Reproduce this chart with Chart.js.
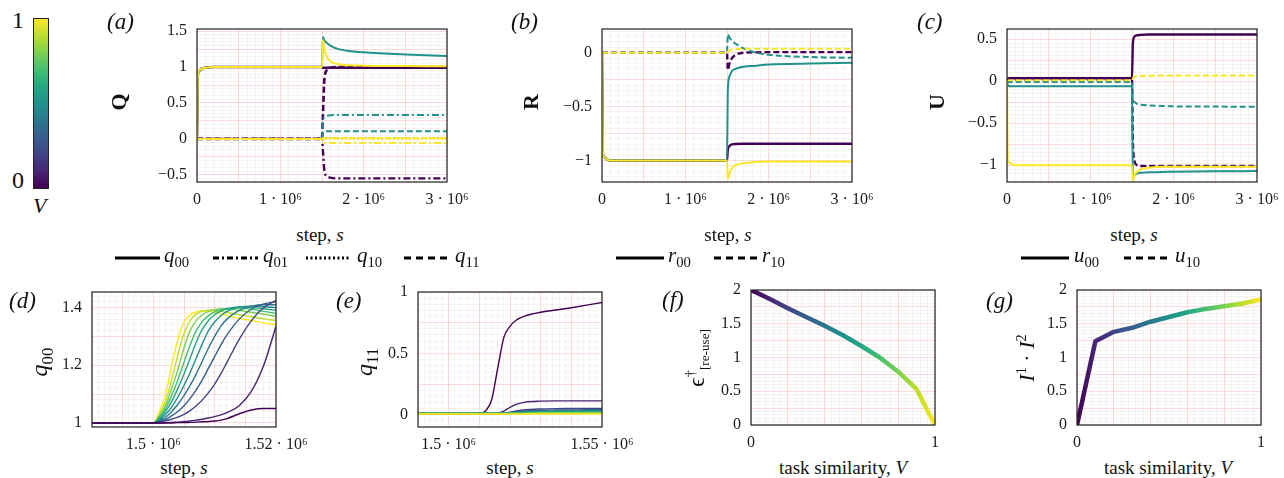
<!DOCTYPE html>
<html>
<head>
<meta charset="utf-8">
<script src="https://cdn.jsdelivr.net/npm/chart.js@4.4.1/dist/chart.umd.min.js"></script>
<style>
  body { margin: 0; background: #fff; }
  #fig { position: relative; width: 1284px; height: 478px; overflow: hidden;
         font-family: "Liberation Serif", "DejaVu Serif", serif; color: #111; }
  canvas { position: absolute; }
  .t { position: absolute; white-space: nowrap; line-height: 1; }
  .pl { font-style: italic; font-size: 23px; }
  .xt { font-size: 19px; transform: translateX(-50%); }
  .yt { transform: translate(-50%, -50%) rotate(-90deg); }
  .leg { font-size: 21px; transform: translateY(-50%); }
  .leg sub, .yt sub { font-style: normal; font-size: 0.7em; }
  svg { position: absolute; overflow: visible; }
  #cbar { position: absolute; left: 33px; top: 18px; width: 14px; height: 169px; border: 1px solid #222; }
</style>
</head>
<body>
<div id="fig">
  <div id="cbar"></div>
  <div class="t" style="left:12px;top:8px;font-size:24px">1</div>
  <div class="t" style="left:12px;top:168px;font-size:24px">0</div>
  <div class="t" style="left:33px;top:195px;font-size:22px;font-style:italic">V</div>

  <div class="t pl" style="left:107px;top:10px">(a)</div>
  <div class="t pl" style="left:511px;top:10px">(b)</div>
  <div class="t pl" style="left:917px;top:10px">(c)</div>
  <div class="t pl" style="left:9px;top:289px">(d)</div>
  <div class="t pl" style="left:336px;top:289px">(e)</div>
  <div class="t pl" style="left:662px;top:288px">(f)</div>
  <div class="t pl" style="left:986px;top:289px">(g)</div>

  <div class="t yt" style="left:119px;top:102px;font-size:22px;font-weight:bold">Q</div>
  <div class="t yt" style="left:531px;top:102px;font-size:22px;font-weight:bold">R</div>
  <div class="t yt" style="left:937px;top:102px;font-size:22px;font-weight:bold">U</div>
  <div class="t yt" style="left:42px;top:362px;font-size:24px"><i>q</i><sub>00</sub></div>
  <div class="t yt" style="left:367px;top:362px;font-size:24px"><i>q</i><sub>11</sub></div>
  <div class="t yt" style="left:697px;top:358px;font-size:24px">ϵ<sup style="font-size:0.6em">†</sup><sub style="font-size:0.55em">[re-use]</sub></div>
  <div class="t yt" style="left:1026px;top:358px;font-size:22px"><i>I</i><sup style="font-size:0.65em">1</sup> · <i>I</i><sup style="font-size:0.65em">2</sup></div>

  <div class="t xt" style="left:320px;top:225px">step, <i>s</i></div>
  <div class="t xt" style="left:728px;top:225px">step, <i>s</i></div>
  <div class="t xt" style="left:1134px;top:225px">step, <i>s</i></div>
  <div class="t xt" style="left:184px;top:458px">step, <i>s</i></div>
  <div class="t xt" style="left:510px;top:458px">step, <i>s</i></div>
  <div class="t xt" style="left:843px;top:458px">task similarity, <i>V</i></div>
  <div class="t xt" style="left:1168px;top:458px">task similarity, <i>V</i></div>

  <svg style="left:0;top:0" width="1284" height="478">
    <g stroke="#000" stroke-width="3">
      <line x1="115" y1="258" x2="160" y2="258"/>
      <line x1="213" y1="258" x2="258" y2="258" stroke-dasharray="6 3 2 3"/>
      <line x1="306" y1="258" x2="350" y2="258" stroke-dasharray="2 2.5"/>
      <line x1="404" y1="258" x2="448" y2="258" stroke-dasharray="7 5"/>
      <line x1="616" y1="258" x2="664" y2="258"/>
      <line x1="714" y1="258" x2="758" y2="258" stroke-dasharray="7 5"/>
      <line x1="1021" y1="258" x2="1069" y2="258"/>
      <line x1="1124" y1="258" x2="1170" y2="258" stroke-dasharray="7 5"/>
    </g>
  </svg>
  <div class="t leg" style="left:164px;top:257px"><i>q</i><sub>00</sub></div>
  <div class="t leg" style="left:263px;top:257px"><i>q</i><sub>01</sub></div>
  <div class="t leg" style="left:357px;top:257px"><i>q</i><sub>10</sub></div>
  <div class="t leg" style="left:455px;top:257px"><i>q</i><sub>11</sub></div>
  <div class="t leg" style="left:668px;top:257px"><i>r</i><sub>00</sub></div>
  <div class="t leg" style="left:762px;top:257px"><i>r</i><sub>10</sub></div>
  <div class="t leg" style="left:1074px;top:257px"><i>u</i><sub>00</sub></div>
  <div class="t leg" style="left:1175px;top:257px"><i>u</i><sub>10</sub></div>
</div>

<script>
// viridis colours for V = 0, 0.1, ..., 1
const VIRIDIS = ['#440154', '#482475', '#414487', '#355f8d', '#2a788e', '#21918c',
                 '#22a884', '#44bf70', '#7ad151', '#bddf26', '#fde725'];
const V_VALUES = [0, 0.1, 0.2, 0.3, 0.4, 0.5, 0.6, 0.7, 0.8, 0.9, 1];

// ---- top row: order parameters over training, for V = 0, 0.5, 1
const TOP_STEPS = [0, 1e4, 3e4, 6e4, 1e5, 2e5, 4e5, 8e5, 1.2e6, 1.5e6, 1.51e6, 1.53e6, 1.56e6, 1.6e6, 1.7e6, 1.85e6, 2e6, 2.5e6, 3e6];
const TOP_XTICKS = [0, 1e6, 2e6, 3e6];
const TOP_XLABELS = ['0', '1 · 10⁶', '2 · 10⁶', '3 · 10⁶'];

const A_Q00_V0  = [0, 0.88, 0.95, 0.98, 0.99, 1, 1, 1, 1, 1, 0.99, 0.99, 0.99, 0.99, 0.99, 0.99, 0.99, 0.99, 0.99];
const A_Q01_V0  = [0, 0, 0, 0, 0, 0, 0, 0, 0, 0, -0.15, -0.45, -0.52, -0.54, -0.55, -0.55, -0.55, -0.55, -0.55];
const A_Q10_V0  = [0, 0, 0, 0, 0, 0, 0, 0, 0, 0, 0, 0, 0, 0, 0, 0, 0, 0, 0];
const A_Q11_V0  = [0, 0, 0, 0, 0, 0, 0, 0, 0, 0, 0.3, 0.85, 0.96, 0.99, 1, 1, 1, 1, 1];
const A_Q00_V5  = [0, 0.88, 0.95, 0.98, 0.99, 1, 1, 1, 1, 1, 1.42, 1.37, 1.335, 1.3, 1.25, 1.22, 1.205, 1.175, 1.153];
const A_Q01_V5  = [0, 0, 0, 0, 0, 0, 0, 0, 0, 0, 0.25, 0.3, 0.32, 0.33, 0.333, 0.333, 0.333, 0.333, 0.333];
const A_Q10_V5  = [0, 0, 0, 0, 0, 0, 0, 0, 0, 0, 0, 0, 0, 0, 0, 0, 0, 0, 0];
const A_Q11_V5  = [0, 0, 0, 0, 0, 0, 0, 0, 0, 0, 0.09, 0.105, 0.107, 0.107, 0.107, 0.107, 0.107, 0.107, 0.107];
const A_Q00_V10 = [0, 0.88, 0.95, 0.98, 0.99, 1, 1, 1, 1, 1, 1.38, 1.25, 1.14, 1.08, 1.04, 1.025, 1.02, 1.015, 1.01];
const A_Q01_V10 = [0, 0, 0, 0, 0, 0, 0, 0, 0, 0, -0.05, -0.056, -0.056, -0.056, -0.056, -0.056, -0.056, -0.056, -0.056];
const A_Q10_V10 = [0, 0, 0, 0, 0, 0, 0, 0, 0, 0, 0, 0, 0, 0, 0, 0, 0, 0, 0];
const A_Q11_V10 = [0, 0, 0, 0, 0, 0, 0, 0, 0, 0, 0.014, 0.014, 0.014, 0.014, 0.014, 0.014, 0.014, 0.014, 0.014];
const A_YTICKS = [-0.5, 0, 0.5, 1, 1.5];
const A_YLABELS = ['−0.5', '0', '0.5', '1', '1.5'];

const B_R00_V0  = [0, -0.93, -0.97, -0.99, -1, -1, -1, -1, -1, -1, -0.9, -0.865, -0.85, -0.847, -0.845, -0.845, -0.845, -0.845, -0.845];
const B_R10_V0  = [0, 0, 0, 0, 0, 0, 0, 0, 0, 0, -0.16, -0.1, -0.05, -0.02, 0, 0.003, 0.005, 0.005, 0.005];
const B_R00_V5  = [0, -0.93, -0.97, -0.99, -1, -1, -1, -1, -1, -1, -0.35, -0.22, -0.17, -0.15, -0.13, -0.12, -0.11, -0.1, -0.093];
const B_R10_V5  = [0, 0, 0, 0, 0, 0, 0, 0, 0, 0, 0.17, 0.14, 0.11, 0.085, 0.04, 0, -0.02, -0.04, -0.047];
const B_R00_V10 = [0, -0.93, -0.97, -0.99, -1, -1, -1, -1, -1, -1, -1.17, -1.12, -1.07, -1.045, -1.025, -1.015, -1.01, -1.01, -1.01];
const B_R10_V10 = [0, 0, 0, 0, 0, 0, 0, 0, 0, 0, 0.01, 0.02, 0.03, 0.034, 0.036, 0.037, 0.037, 0.037, 0.037];
const B_YTICKS = [-1, -0.5, 0];
const B_YLABELS = ['−1', '−0.5', '0'];

const C_U00_V0  = [0, 0.03, 0.035, 0.035, 0.035, 0.035, 0.035, 0.035, 0.035, 0.035, 0.45, 0.53, 0.545, 0.55, 0.555, 0.555, 0.555, 0.555, 0.555];
const C_U10_V0  = [0, 0.015, 0.02, 0.02, 0.02, 0.02, 0.02, 0.02, 0.02, 0.02, -0.7, -0.95, -1, -1.01, -1.01, -1.01, -1.01, -1.01, -1.01];
const C_U00_V5  = [0, -0.05, -0.06, -0.06, -0.06, -0.06, -0.06, -0.06, -0.06, -0.06, -1.16, -1.12, -1.1, -1.09, -1.085, -1.08, -1.078, -1.073, -1.07];
const C_U10_V5  = [0, -0.008, -0.01, -0.01, -0.01, -0.01, -0.01, -0.01, -0.01, -0.01, -0.22, -0.25, -0.27, -0.28, -0.29, -0.295, -0.3, -0.303, -0.305];
const C_U00_V10 = [0, -0.93, -0.97, -0.99, -1, -1, -1, -1, -1, -1, -1.19, -1.12, -1.08, -1.05, -1.03, -1.02, -1.02, -1.02, -1.02];
const C_U10_V10 = [0, 0.008, 0.01, 0.01, 0.01, 0.01, 0.01, 0.01, 0.01, 0.01, 0.03, 0.05, 0.058, 0.062, 0.065, 0.066, 0.067, 0.067, 0.067];
const C_YTICKS = [-1, -0.5, 0, 0.5];
const C_YLABELS = ['−1', '−0.5', '0', '0.5'];

// ---- (d) q00 right after the task switch, one curve per V
const D_STEPS = [1490000, 1500000, 1501000, 1502000, 1503000, 1504000, 1505000, 1506000, 1507000,
                 1508000, 1509000, 1510000, 1511000, 1512000, 1514000, 1516000, 1518000, 1520000];
const D_Q00_V0  = [1, 1, 1, 1, 1, 1.001, 1.001, 1.002, 1.003, 1.004, 1.005, 1.007, 1.01, 1.015, 1.032, 1.045, 1.05, 1.05];
const D_Q00_V1  = [1, 1, 1, 1.001, 1.002, 1.003, 1.005, 1.007, 1.01, 1.013, 1.017, 1.022, 1.028, 1.036, 1.06, 1.11, 1.2, 1.335];
const D_Q00_V2  = [1, 1, 1.003, 1.007, 1.013, 1.02, 1.03, 1.043, 1.06, 1.08, 1.105, 1.135, 1.17, 1.21, 1.29, 1.355, 1.4, 1.425];
const D_Q00_V3  = [1, 1, 1.005, 1.012, 1.025, 1.04, 1.06, 1.085, 1.115, 1.15, 1.19, 1.23, 1.27, 1.305, 1.36, 1.395, 1.413, 1.42];
const D_Q00_V4  = [1, 1, 1.008, 1.02, 1.04, 1.065, 1.095, 1.13, 1.17, 1.215, 1.26, 1.3, 1.335, 1.36, 1.39, 1.405, 1.41, 1.41];
const D_Q00_V5  = [1, 1, 1.01, 1.03, 1.055, 1.09, 1.13, 1.175, 1.225, 1.275, 1.32, 1.35, 1.372, 1.387, 1.402, 1.405, 1.403, 1.4];
const D_Q00_V6  = [1, 1, 1.015, 1.04, 1.075, 1.12, 1.17, 1.225, 1.28, 1.325, 1.355, 1.375, 1.388, 1.396, 1.402, 1.4, 1.396, 1.39];
const D_Q00_V7  = [1, 1, 1.02, 1.05, 1.095, 1.15, 1.21, 1.27, 1.32, 1.352, 1.372, 1.385, 1.393, 1.397, 1.398, 1.394, 1.387, 1.38];
const D_Q00_V8  = [1, 1, 1.025, 1.06, 1.12, 1.185, 1.26, 1.32, 1.355, 1.375, 1.387, 1.393, 1.395, 1.395, 1.39, 1.384, 1.377, 1.37];
const D_Q00_V9  = [1, 1, 1.03, 1.075, 1.15, 1.235, 1.31, 1.355, 1.378, 1.388, 1.391, 1.39, 1.387, 1.383, 1.375, 1.368, 1.361, 1.355];
const D_Q00_V10 = [1, 1, 1.04, 1.1, 1.2, 1.29, 1.35, 1.375, 1.385, 1.388, 1.387, 1.383, 1.378, 1.373, 1.363, 1.355, 1.347, 1.34];
const D_XTICKS = [1500000, 1520000];
const D_XLABELS = ['1.5 · 10⁶', '1.52 · 10⁶'];
const D_YTICKS = [1, 1.2, 1.4];
const D_YLABELS = ['1', '1.2', '1.4'];

// ---- (e) q11 right after the task switch
const E_STEPS = [1490000, 1500000, 1505000, 1510000, 1512000, 1514000, 1516000, 1518000,
                 1520000, 1522000, 1525000, 1530000, 1535000, 1540000, 1545000, 1550000];
const E_Q11_V0  = [0.01, 0.01, 0.01, 0.012, 0.03, 0.12, 0.38, 0.63, 0.72, 0.77, 0.805, 0.835, 0.853, 0.872, 0.893, 0.915];
const E_Q11_V1  = [0.01, 0.01, 0.01, 0.01, 0.01, 0.01, 0.015, 0.03, 0.06, 0.085, 0.103, 0.111, 0.113, 0.113, 0.113, 0.113];
const E_Q11_V2  = [0.01, 0.01, 0.01, 0.01, 0.01, 0.01, 0.01, 0.012, 0.02, 0.03, 0.04, 0.047, 0.05, 0.051, 0.052, 0.052];
const E_Q11_V3  = [0.01, 0.01, 0.01, 0.01, 0.01, 0.01, 0.01, 0.011, 0.016, 0.023, 0.03, 0.036, 0.038, 0.039, 0.04, 0.04];
const E_Q11_V4  = [0.01, 0.01, 0.01, 0.01, 0.01, 0.01, 0.01, 0.011, 0.014, 0.018, 0.024, 0.03, 0.032, 0.033, 0.034, 0.034];
const E_Q11_V5  = [0.01, 0.01, 0.01, 0.01, 0.01, 0.01, 0.01, 0.01, 0.012, 0.015, 0.02, 0.025, 0.027, 0.028, 0.028, 0.028];
const E_Q11_V6  = [0.01, 0.01, 0.01, 0.01, 0.01, 0.01, 0.01, 0.01, 0.011, 0.013, 0.016, 0.02, 0.022, 0.023, 0.023, 0.023];
const E_Q11_V7  = [0.01, 0.01, 0.01, 0.01, 0.01, 0.01, 0.01, 0.01, 0.01, 0.011, 0.013, 0.016, 0.018, 0.019, 0.019, 0.019];
const E_Q11_V8  = [0.01, 0.01, 0.01, 0.01, 0.01, 0.01, 0.01, 0.01, 0.01, 0.01, 0.012, 0.014, 0.015, 0.015, 0.015, 0.015];
const E_Q11_V9  = [0.008, 0.008, 0.008, 0.008, 0.008, 0.008, 0.008, 0.008, 0.008, 0.008, 0.009, 0.01, 0.011, 0.011, 0.011, 0.011];
const E_Q11_V10 = [0.005, 0.005, 0.005, 0.005, 0.005, 0.005, 0.005, 0.005, 0.005, 0.005, 0.005, 0.005, 0.005, 0.005, 0.005, 0.005];
const E_XTICKS = [1500000, 1550000];
const E_XLABELS = ['1.5 · 10⁶', '1.55 · 10⁶'];
const E_YTICKS = [0, 0.5, 1];
const E_YLABELS = ['0', '0.5', '1'];

// ---- (f), (g) against task similarity
const F_EPS = [2.0, 1.87, 1.73, 1.6, 1.47, 1.33, 1.17, 1.0, 0.79, 0.53, 0.0];
const G_OVERLAP = [0, 1.24, 1.38, 1.44, 1.53, 1.6, 1.67, 1.72, 1.76, 1.8, 1.86];
const V_XTICKS = [0, 0.5, 1];
const V_XLABELS = ['0', '0.5', '1'];
const FG_YTICKS = [0, 0.5, 1, 1.5, 2];
const FG_YLABELS = ['0', '0.5', '1', '1.5', '2'];

const FONT = '"Liberation Serif", "DejaVu Serif", serif';
const MAJOR = 'rgba(240, 90, 90, 0.22)';
const MINOR = 'rgba(170, 130, 130, 0.09)';
const fig = document.getElementById('fig');

document.getElementById('cbar').style.background =
  'linear-gradient(to top, ' + VIRIDIS.join(', ') + ')';

function pts(xs, ys) {
  return xs.map((x, i) => ({ x: x, y: ys[i] }));
}

function line(xs, ys, color, width, dash, order) {
  return {
    data: pts(xs, ys), borderColor: color, borderWidth: width, borderDash: dash || [],
    pointRadius: 0, fill: false, cubicInterpolationMode: 'monotone', order: order || 0
  };
}

function gridValues(min, max, step) {
  const out = [];
  for (let k = Math.ceil(min / step - 1e-9); k * step <= max + 1e-9; k++) {
    out.push(+(k * step).toFixed(9));
  }
  return out;
}

function onStep(v, step) {
  const r = v / step;
  return Math.abs(r - Math.round(r)) < 1e-6;
}

function axis(min, max, minor, major, ticks, labels, isX) {
  return {
    type: 'linear', min: min, max: max,
    afterBuildTicks: s => { s.ticks = gridValues(min, max, minor).map(v => ({ value: v })); },
    afterFit: s => {
      if (isX) s.height = 30; else s.width = 70;
      s.paddingLeft = 0; s.paddingRight = 0; s.paddingTop = 0; s.paddingBottom = 0;
    },
    grid: { color: c => onStep(c.tick.value, major) ? MAJOR : MINOR, drawTicks: false, lineWidth: 1 },
    border: { display: false },
    ticks: {
      autoSkip: false, maxRotation: 0, minRotation: 0, padding: isX ? 8 : 10,
      color: '#1a1a1a', font: { family: FONT, size: 16 },
      callback: v => {
        const i = ticks.findIndex(t => Math.abs(t - v) < (max - min) * 1e-6);
        return i < 0 ? '' : labels[i];
      }
    }
  };
}

const frame = {
  id: 'frame',
  afterDraw(chart) {
    const a = chart.chartArea, c = chart.ctx;
    c.save();
    c.strokeStyle = '#222';
    c.lineWidth = 1.2;
    c.strokeRect(a.left, a.top, a.right - a.left, a.bottom - a.top);
    c.restore();
  }
};

function panel(rect, datasets, xAxis, yAxis) {
  const [L, T, R, B] = rect;
  const W = R - L + 105, H = B - T + 45;
  const cv = document.createElement('canvas');
  cv.width = W; cv.height = H;
  cv.style.left = (L - 70) + 'px';
  cv.style.top = (T - 15) + 'px';
  cv.style.width = W + 'px';
  cv.style.height = H + 'px';
  fig.insertBefore(cv, fig.firstChild);
  new Chart(cv, {
    type: 'line',
    data: { datasets: datasets },
    options: {
      responsive: false, animation: false,
      layout: { padding: { left: 0, top: 15, right: 35, bottom: 0 } },
      plugins: { legend: { display: false }, tooltip: { enabled: false } },
      scales: { x: xAxis, y: yAxis }
    },
    plugins: [frame]
  });
}

const SOLID = [], DASHDOT = [7, 3, 2, 3], DOTTED = [2, 2], DASHED = [6, 3];
const TOP_COLORS = [VIRIDIS[0], VIRIDIS[5], VIRIDIS[10]];
const TOP_X = () => axis(0, 3e6, 1e5, 5e5, TOP_XTICKS, TOP_XLABELS, true);

// (a)
panel([197, 29, 447, 182], [
  line(TOP_STEPS, A_Q00_V10, TOP_COLORS[2], 2, SOLID, 0),
  line(TOP_STEPS, A_Q01_V10, TOP_COLORS[2], 2, DASHDOT, 0),
  line(TOP_STEPS, A_Q10_V10, TOP_COLORS[2], 2, DOTTED, 0),
  line(TOP_STEPS, A_Q11_V10, TOP_COLORS[2], 2, DASHED, 0),
  line(TOP_STEPS, A_Q00_V5, TOP_COLORS[1], 2, SOLID, 1),
  line(TOP_STEPS, A_Q01_V5, TOP_COLORS[1], 2, DASHDOT, 1),
  line(TOP_STEPS, A_Q10_V5, TOP_COLORS[1], 2, DOTTED, 1),
  line(TOP_STEPS, A_Q11_V5, TOP_COLORS[1], 2, DASHED, 1),
  line(TOP_STEPS, A_Q00_V0, TOP_COLORS[0], 2.4, SOLID, 2),
  line(TOP_STEPS, A_Q01_V0, TOP_COLORS[0], 2.4, DASHDOT, 2),
  line(TOP_STEPS, A_Q10_V0, TOP_COLORS[0], 2.4, DOTTED, 2),
  line(TOP_STEPS, A_Q11_V0, TOP_COLORS[0], 2.6, DASHED, 2)
], TOP_X(), axis(-0.6, 1.53, 0.05, 0.25, A_YTICKS, A_YLABELS, false));

// (b)
panel([602, 29, 852, 182], [
  line(TOP_STEPS, B_R00_V10, TOP_COLORS[2], 2, SOLID, 0),
  line(TOP_STEPS, B_R10_V10, TOP_COLORS[2], 2, DASHED, 0),
  line(TOP_STEPS, B_R00_V5, TOP_COLORS[1], 2, SOLID, 1),
  line(TOP_STEPS, B_R10_V5, TOP_COLORS[1], 2, DASHED, 1),
  line(TOP_STEPS, B_R00_V0, TOP_COLORS[0], 2.4, SOLID, 2),
  line(TOP_STEPS, B_R10_V0, TOP_COLORS[0], 2.4, DASHED, 2)
], TOP_X(), axis(-1.2, 0.22, 0.05, 0.25, B_YTICKS, B_YLABELS, false));

// (c)
panel([1007, 29, 1257, 182], [
  line(TOP_STEPS, C_U00_V10, TOP_COLORS[2], 2, SOLID, 0),
  line(TOP_STEPS, C_U10_V10, TOP_COLORS[2], 2, DASHED, 0),
  line(TOP_STEPS, C_U00_V5, TOP_COLORS[1], 2, SOLID, 1),
  line(TOP_STEPS, C_U10_V5, TOP_COLORS[1], 2, DASHED, 1),
  line(TOP_STEPS, C_U00_V0, TOP_COLORS[0], 2.4, SOLID, 2),
  line(TOP_STEPS, C_U10_V0, TOP_COLORS[0], 2.4, DASHED, 2)
], TOP_X(), axis(-1.2, 0.62, 0.05, 0.25, C_YTICKS, C_YLABELS, false));

// (d)
const D_SERIES = [D_Q00_V0, D_Q00_V1, D_Q00_V2, D_Q00_V3, D_Q00_V4, D_Q00_V5,
                  D_Q00_V6, D_Q00_V7, D_Q00_V8, D_Q00_V9, D_Q00_V10];
panel([92, 292, 276, 427],
  D_SERIES.map((ys, i) => line(D_STEPS, ys, VIRIDIS[i], 1.4, SOLID, i)),
  axis(1490000, 1520000, 1000, 5000, D_XTICKS, D_XLABELS, true),
  axis(0.986, 1.454, 0.02, 0.1, D_YTICKS, D_YLABELS, false));

// (e)
const E_SERIES = [E_Q11_V0, E_Q11_V1, E_Q11_V2, E_Q11_V3, E_Q11_V4, E_Q11_V5,
                  E_Q11_V6, E_Q11_V7, E_Q11_V8, E_Q11_V9, E_Q11_V10];
panel([418, 292, 602, 427],
  E_SERIES.map((ys, i) => line(E_STEPS, ys, VIRIDIS[i], 1.4, SOLID, 10 - i)),
  axis(1490000, 1550000, 2000, 10000, E_XTICKS, E_XLABELS, true),
  axis(-0.1, 1.0, 0.05, 0.25, E_YTICKS, E_YLABELS, false));

// (f), (g): thick line coloured along V
function viridisStroke(ctx) {
  const chart = ctx.chart, a = chart.chartArea;
  if (!a) return VIRIDIS[0];
  const g = chart.ctx.createLinearGradient(a.left, 0, a.right, 0);
  VIRIDIS.forEach((c, i) => g.addColorStop(i / (VIRIDIS.length - 1), c));
  return g;
}
function thick(ys) {
  return { data: pts(V_VALUES, ys), borderColor: viridisStroke, borderWidth: 4.5,
           pointRadius: 0, fill: false, tension: 0, borderCapStyle: 'butt', borderJoinStyle: 'round' };
}
panel([751, 290, 935, 425], [thick(F_EPS)],
  axis(0, 1, 0.04, 0.2, V_XTICKS, V_XLABELS, true),
  axis(0, 2, 0.05, 0.25, FG_YTICKS, FG_YLABELS, false));
panel([1077, 290, 1261, 425], [thick(G_OVERLAP)],
  axis(0, 1, 0.04, 0.2, V_XTICKS, V_XLABELS, true),
  axis(0, 2, 0.05, 0.25, FG_YTICKS, FG_YLABELS, false));
</script>
</body>
</html>
